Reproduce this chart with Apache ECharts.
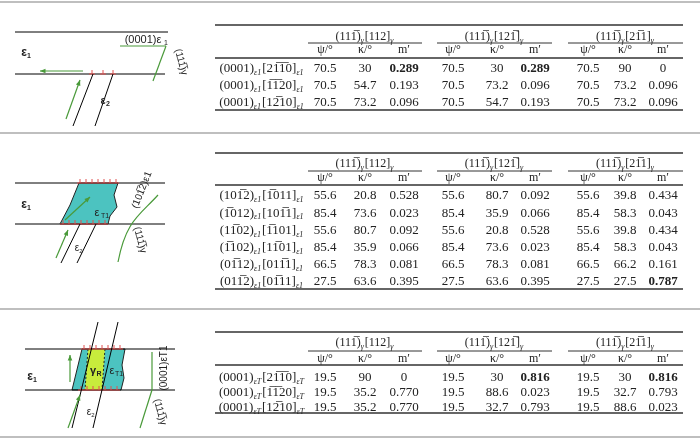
<!DOCTYPE html>
<html><head><meta charset="utf-8">
<script src="https://cdn.jsdelivr.net/npm/echarts@6/dist/echarts.min.js"></script>
<style>html,body{margin:0;background:#fff}#c{width:700px;height:440px}</style></head>
<body><div id="c"></div>
<script>
var B='\u0305';
var groupTitles=[['(111'+B+')','γ','[112]','γ'],['(111'+B+')','γ','[121'+B+']','γ'],['(111'+B+')','γ','[21'+B+'1]','γ']];
var subHeaders=['ψ/°','κ/°','m′'];
var labels1=[['(0001)','ε1','[21'+B+'1'+B+'0]','ε1'],['(0001)','ε1','[1'+B+'1'+B+'20]','ε1'],['(0001)','ε1','[12'+B+'10]','ε1']];
var values1=[[70.5,30,'0.289',70.5,30,'0.289',70.5,90,'0'],[70.5,54.7,'0.193',70.5,73.2,'0.096',70.5,73.2,'0.096'],[70.5,73.2,'0.096',70.5,54.7,'0.193',70.5,73.2,'0.096']];
var bold1=[[0,2],[0,5]];
var labels2=[['(101'+B+'2)','ε1','[1'+B+'011]','ε1'],['(1'+B+'012)','ε1','[101'+B+'1]','ε1'],['(11'+B+'02)','ε1','[1'+B+'101]','ε1'],['(1'+B+'102)','ε1','[11'+B+'01]','ε1'],['(01'+B+'12)','ε1','[011'+B+'1]','ε1'],['(011'+B+'2)','ε1','[01'+B+'11]','ε1']];
var values2=[[55.6,20.8,'0.528',55.6,80.7,'0.092',55.6,39.8,'0.434'],[85.4,73.6,'0.023',85.4,35.9,'0.066',85.4,58.3,'0.043'],[55.6,80.7,'0.092',55.6,20.8,'0.528',55.6,39.8,'0.434'],[85.4,35.9,'0.066',85.4,73.6,'0.023',85.4,58.3,'0.043'],[66.5,78.3,'0.081',66.5,78.3,'0.081',66.5,66.2,'0.161'],[27.5,63.6,'0.395',27.5,63.6,'0.395',27.5,27.5,'0.787']];
var bold2=[[5,8]];
var labels3=[['(0001)','εT','[21'+B+'1'+B+'0]','εT'],['(0001)','εT','[1'+B+'1'+B+'20]','εT'],['(0001)','εT','[12'+B+'10]','εT']];
var values3=[[19.5,90,'0',19.5,30,'0.816',19.5,30,'0.816'],[19.5,35.2,'0.770',19.5,88.6,'0.023',19.5,32.7,'0.793'],[19.5,35.2,'0.770',19.5,32.7,'0.793',19.5,88.6,'0.023']];
var bold3=[[0,5],[0,8]];

var F='"Liberation Serif","DejaVu Serif",serif';
var colX=[325,365,404,453,497,535,588,625,663];
var grpX=[[308,422],[437,552],[568,683]];
var G=[];
function line(x1,y1,x2,y2,c,w,dash){G.push({type:'line',shape:{x1:x1,y1:y1,x2:x2,y2:y2},style:{stroke:c||'#000',lineWidth:w||1,lineDash:dash||null}});}
function txt(x,y,t,o){o=o||{};G.push({type:'text',x:x,y:y,rotation:o.rot||0,style:{text:t,font:(o.bold?'bold ':'')+(o.size||13)+'px '+(o.font||F),fill:o.fill||'#222',align:o.align||'center',verticalAlign:'middle',rich:o.rich}});}
function richLabel(p){return '{m|'+p[0]+'}{s|'+p[1]+'}{m|'+p[2]+'}{s|'+p[3]+'}';}
var rich={m:{font:'13px '+F,fill:'#222',verticalAlign:'middle',lineHeight:16},s:{font:'italic 8px '+F,fill:'#222',verticalAlign:'bottom',lineHeight:12,padding:[0,1,0,0]}};
var richT={m:{font:'12px '+F,fill:'#222',verticalAlign:'middle',lineHeight:16},s:{font:'italic 8px '+F,fill:'#222',verticalAlign:'bottom',lineHeight:12,padding:[0,1,0,0]}};
function table(top,title,ul,sub,hl,rows,bottom,labels,vals,bolds){
  line(215,top,683,top,'#333',1.3);
  for(var g=0;g<3;g++){
    txt((grpX[g][0]+grpX[g][1])/2,title,richLabel(groupTitles[g]),{rich:richT});
    line(grpX[g][0],ul,grpX[g][1],ul,'#333',1);
    for(var k=0;k<3;k++) txt(colX[g*3+k],sub,subHeaders[k],{size:12});
  }
  line(215,hl,683,hl,'#333',1.3);
  for(var r=0;r<labels.length;r++){
    var y=rows[0]+r*rows[1];
    txt(262,y,richLabel(labels[r]),{rich:rich});
    for(var c=0;c<9;c++){
      var b=bolds.some(function(q){return q[0]===r&&q[1]===c;});
      txt(colX[c],y,String(vals[r][c]),{bold:b});
    }
  }
  line(215,bottom,683,bottom,'#333',1.3);
}
[2,133,309,437].forEach(function(y){line(0,y,700,y,'#aaa',1.5);});
table(25,37,43,50,58,[69,17],110,labels1,values1,bold1);
table(153,164,171,178,185,[196,17.2],289,labels2,values2,bold2);
table(332,343,351,359,365,[378,15],413,labels3,values3,bold3);

var GR='#4a9a3a',RD='#e05050',TE='#4cc3c0',YE='#c8ec3c';
function arrow(x1,y1,x2,y2){line(x1,y1,x2,y2,GR,1.2);var a=Math.atan2(y2-y1,x2-x1),L=6;
 G.push({type:'polygon',shape:{points:[[x2,y2],[x2-L*Math.cos(a-0.4),y2-L*Math.sin(a-0.4)],[x2-L*Math.cos(a+0.4),y2-L*Math.sin(a+0.4)]]},style:{fill:GR}});}
function disl(x,y){line(x-3,y,x+3,y,RD,1);line(x,y,x,y-4,RD,1);}
var SF='"Liberation Sans",Arial,sans-serif';
// panel 1 diagram
line(15,32,168,32);line(15,74,165,74);
txt(24,53,'ε',{bold:true,font:SF,size:12});txt(29,56,'1',{bold:true,font:SF,size:7});
txt(143,40,'(0001)ε',{font:SF,size:11});txt(166,43,'1',{font:SF,size:7});
line(120,46,166,46,GR,1.2);line(166,46,153,81,GR,1.2);
txt(181,62,'(111'+B+')γ',{font:SF,size:10,rot:-Math.PI*0.42});
arrow(83,71,40,71);[92,103,113].forEach(function(x){disl(x,74);});
line(93,74,73,126);line(113,74,95,126);arrow(66,119,80,80);
txt(103,101,'ε',{bold:true,font:SF,size:11});txt(108,104,'2',{bold:true,font:SF,size:7});
// panel 2 diagram
G.push({type:'polygon',shape:{points:[[79,183],[118,183],[114,195],[117,207],[110,216],[108,224],[60,224],[70,205]]},style:{fill:TE,stroke:'#222',lineWidth:1}});
line(15,183,165,183);line(15,224,165,224);
[80,86,92,98,104,110,116].forEach(function(x){disl(x,183);});
[63,69,75,81,87,93,99,105].forEach(function(x){disl(x,224);});
arrow(65,220,90,197);
txt(24,205,'ε',{bold:true,font:SF,size:12});txt(29,208,'1',{bold:true,font:SF,size:7});
txt(97,213,'ε',{font:SF,size:11});txt(105,216,'T1',{font:SF,size:7});
line(80,224,61,263);line(96,224,77,263);arrow(56,258,68,230);
txt(77,248,'ε',{font:SF,size:10});txt(81,251,'2',{font:SF,size:6});
G.push({type:'bezierCurve',shape:{x1:118,y1:262,x2:158,y2:195,cpx1:126,cpy1:220,cpx2:140,cpy2:215},style:{stroke:GR,lineWidth:1.2,fill:null}});
txt(142,190,'(101'+B+'2)ε1',{font:SF,size:10,rot:Math.PI*0.38});
txt(140,240,'(111'+B+')γ',{font:SF,size:10,rot:-Math.PI*0.42});
// panel 3 diagram
G.push({type:'polygon',shape:{points:[[82,349],[125,349],[122,365],[124,378],[121,390],[72,390]]},style:{fill:TE,stroke:'#222',lineWidth:1}});
G.push({type:'polygon',shape:{points:[[88,349],[105,349],[102,390],[85,390]]},style:{fill:YE}});
line(88,349,85,390,'#222',1,[2,2]);line(105,349,102,390,'#222',1,[2,2]);
line(25,349,175,349);line(25,390,175,390);
[84,90,96,102,108,114,120].forEach(function(x){disl(x,349);disl(x-3,390);});
line(98,322,72,428);line(118,322,93,428);
arrow(70,382,70,355);arrow(68,428,80,395);
txt(30,377,'ε',{bold:true,font:SF,size:12});txt(35,380,'1',{bold:true,font:SF,size:7});
txt(93,371,'γ',{bold:true,font:SF,size:11});txt(99,374,'R',{bold:true,font:SF,size:7});
txt(112,371,'ε',{font:SF,size:11});txt(119,374,'T1',{font:SF,size:7});
txt(89,412,'ε',{font:SF,size:10});txt(93,415,'2',{font:SF,size:6});
line(152,352,152,390,GR,1.2);line(152,390,140,428,GR,1.2);
txt(164,368,'(0001)εT1',{font:SF,size:10,rot:Math.PI/2});
txt(160,412,'(111'+B+')γ',{font:SF,size:10,rot:-Math.PI*0.42});

var ch=echarts.init(document.getElementById('c'));
ch.setOption({animation:false,graphic:{elements:G}});
</script></body></html>
